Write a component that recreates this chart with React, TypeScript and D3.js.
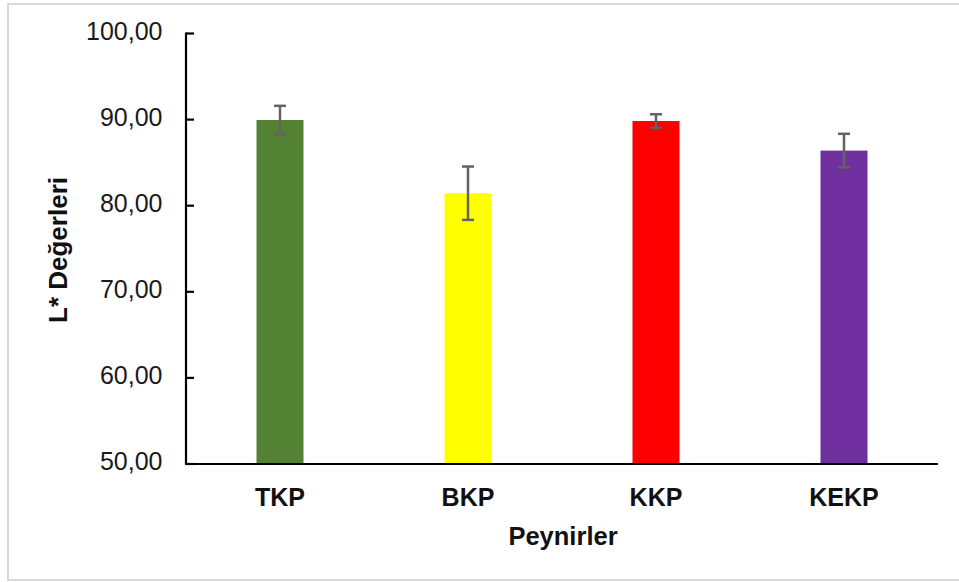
import React from "react";
import * as d3 from "d3";

const categories = ["TKP", "BKP", "KKP", "KEKP"];
const values = [89.95, 81.45, 89.84, 86.4];
const errors = [1.65, 3.1, 0.78, 1.95];
const colors = ["#548235", "#FFFF00", "#FF0000", "#7030A0"];
const yTicks = [50, 60, 70, 80, 90, 100];
const yTitle = "L* Değerleri";
const xTitle = "Peynirler";

const W = 959;
const H = 582;
const left = 186;
const right = 938;
const top = 33.5;
const bottom = 464;
const FONT = "'Liberation Sans', Arial, sans-serif";

export default function App() {
  const x = d3
    .scaleBand<string>()
    .domain(categories)
    .range([left, right])
    .paddingInner(0.75)
    .paddingOuter(0.375);
  const y = d3.scaleLinear().domain([50, 100]).range([bottom, top]);
  const fmt = (v: number) => v.toFixed(2).replace(".", ",");
  const capW = 12;

  return (
    <div style={{ position: "fixed", left: 0, top: 0, width: W, height: H, background: "#fff" }}>
      <svg width={W} height={H} style={{ display: "block" }}>
        <rect x={0} y={0} width={W} height={H} fill="#fff" />
        <rect x={8} y={4} width={W + 20} height={576} fill="none" stroke="#d9d9d9" strokeWidth={2} />
        {/* bars */}
        {categories.map((c, i) => (
          <rect
            key={c}
            x={x(c)!}
            y={y(values[i])}
            width={x.bandwidth()}
            height={bottom - y(values[i])}
            fill={colors[i]}
          />
        ))}
        {/* error bars */}
        {categories.map((c, i) => {
          const cx = x(c)! + x.bandwidth() / 2;
          const y1 = y(values[i] + errors[i]);
          const y2 = y(values[i] - errors[i]);
          return (
            <g key={c} stroke="#636363" strokeWidth={2.5}>
              <line x1={cx} x2={cx} y1={y1} y2={y2} />
              <line x1={cx - capW / 2} x2={cx + capW / 2} y1={y1} y2={y1} />
              <line x1={cx - capW / 2} x2={cx + capW / 2} y1={y2} y2={y2} />
            </g>
          );
        })}
        {/* y axis */}
        <line x1={left} x2={left} y1={top - 1} y2={bottom} stroke="#000" strokeWidth={2.2} />
        {yTicks.map((t) => (
          <g key={t}>
            <line x1={left} x2={left + 8} y1={y(t)} y2={y(t)} stroke="#000" strokeWidth={2.2} />
            <text
              x={162.5}
              y={y(t) + 6}
              textAnchor="end"
              fontFamily={FONT}
              fontSize={25}
              fill="#1a1a1a"
            >
              {fmt(t)}
            </text>
          </g>
        ))}
        {/* x axis */}
        <line x1={left - 1} x2={right} y1={bottom} y2={bottom} stroke="#000" strokeWidth={2.2} />
        {categories.map((c) => (
          <text
            key={c}
            x={x(c)! + x.bandwidth() / 2}
            y={505.5}
            textAnchor="middle"
            fontFamily={FONT}
            fontWeight="bold"
            fontSize={25}
            fill="#111"
          >
            {c}
          </text>
        ))}
        <text
          x={(left + right) / 2 + 1}
          y={544.5}
          textAnchor="middle"
          fontFamily={FONT}
          fontWeight="bold"
          fontSize={25.5}
          fill="#111"
        >
          {xTitle}
        </text>
        <text
          transform={`translate(67, 250) rotate(-90)`}
          textAnchor="middle"
          fontFamily={FONT}
          fontWeight="bold"
          fontSize={26}
          fill="#111"
        >
          {yTitle}
        </text>
      </svg>
    </div>
  );
}
